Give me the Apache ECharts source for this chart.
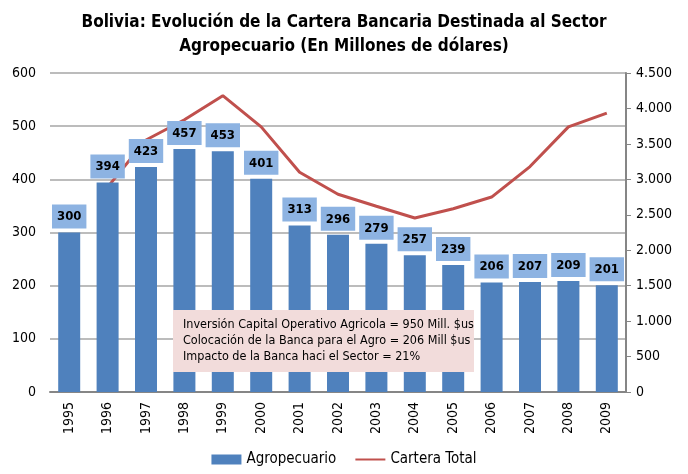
<!DOCTYPE html>
<html>
<head>
	<meta charset="utf-8">
	<script src="https://cdn.jsdelivr.net/npm/echarts@6/dist/echarts.min.js"></script>
	<title>Bolivia cartera</title>
</head>
<body style="margin:0">
	<div id="main" style="width: 688px;height:474px;"></div>
	<script type="text/javascript">
	    var years = ['1995','1996','1997','1998','1999','2000','2001','2002','2003','2004','2005','2006','2007','2008','2009'];
	    var agro = [300, 394, 423, 457, 453, 401, 313, 296, 279, 257, 239, 206, 207, 209, 201];
	    var cartera = [null, 2890, 3555, 3840, 4180, 3740, 3100, 2790, 2620, 2455, 2585, 2750, 3180, 3740, 3935];
	    var notas = [
	        'Inversión Capital Operativo Agricola = 950 Mill. $us',
	        'Colocación de la Banca para el Agro = 206 Mill $us',
	        'Impacto de la Banca haci el Sector = 21%'
	    ];

	    var fuente = "'DejaVu Sans Condensed', 'Liberation Sans Narrow', sans-serif";
	    var myChart = echarts.init(document.getElementById('main'));

	    var option = {
	        textStyle: { fontFamily: fuente },
	        title: {
	            text: 'Bolivia: Evolución de la Cartera Bancaria Destinada al Sector\nAgropecuario (En Millones de dólares)',
	            left: 'center',
	            top: 6,
	            textStyle: { fontSize: 17, fontWeight: 'bold', color: '#000', lineHeight: 24, fontFamily: fuente }
	        },
	        legend: {
	            bottom: 2,
	            left: 'center',
	            itemGap: 18,
	            itemWidth: 30,
	            itemHeight: 10,
	            textStyle: { fontSize: 15, color: '#000', fontFamily: fuente },
	            data: [
	                { name: 'Agropecuario', icon: 'rect' },
	                { name: 'Cartera Total', itemStyle: { opacity: 0 } }
	            ]
	        },
	        grid: { left: 50, right: 62, top: 73, bottom: 82 },
	        xAxis: {
	            type: 'category',
	            data: years,
	            axisLine: { lineStyle: { color: '#868686', width: 2 } },
	            axisTick: { show: false },
	            axisLabel: { rotate: 90, color: '#000', fontSize: 14, margin: 10, fontFamily: fuente }
	        },
	        yAxis: [{
	            type: 'value',
	            min: 0, max: 600, interval: 100,
	            axisLine: { show: false },
	            axisTick: { show: false },
	            axisLabel: { color: '#000', fontSize: 14, margin: 14, fontFamily: fuente },
	            splitLine: { lineStyle: { color: '#a6a6a6', width: 1.5 } }
	        }, {
	            type: 'value',
	            min: 0, max: 4500, interval: 500,
	            position: 'right',
	            axisLine: { show: true, lineStyle: { color: '#868686', width: 2 } },
	            axisTick: { show: true, length: 5, lineStyle: { color: '#868686' } },
	            axisLabel: {
	                color: '#000', fontSize: 14, margin: 10, fontFamily: fuente,
	                formatter: function (v) { return String(v).replace(/\B(?=(\d{3})+(?!\d))/g, '.'); }
	            },
	            splitLine: { show: false }
	        }],
	        series: [{
	            name: 'Agropecuario',
	            type: 'bar',
	            data: agro,
	            barWidth: 22,
	            itemStyle: { color: '#4f81bd' },
	            label: {
	                show: true,
	                position: 'top',
	                distance: 4,
	                color: '#000',
	                fontWeight: 'bold',
	                fontSize: 13,
	                fontFamily: fuente,
	                backgroundColor: '#8db3e2',
	                padding: [6, 5, 5, 5]
	            },
	            z: 2
	        }, {
	            name: 'Cartera Total',
	            type: 'line',
	            yAxisIndex: 1,
	            data: cartera,
	            symbol: 'none',
	            lineStyle: { color: '#c0504d', width: 3 },
	            itemStyle: { color: '#c0504d' },
	            z: 1
	        }],
	        graphic: [{
	            type: 'rect',
	            left: 173, top: 310,
	            shape: { width: 301, height: 62 },
	            style: { fill: '#f2dcdb' },
	            z: 100
	        }, {
	            type: 'text',
	            left: 183, top: 317,
	            style: { text: notas.join('\n'), fill: '#000', font: '12.5px ' + fuente, lineHeight: 16 },
	            z: 101
	        }]
	    };

	    myChart.setOption(option);
    </script>
</body>
</html>
